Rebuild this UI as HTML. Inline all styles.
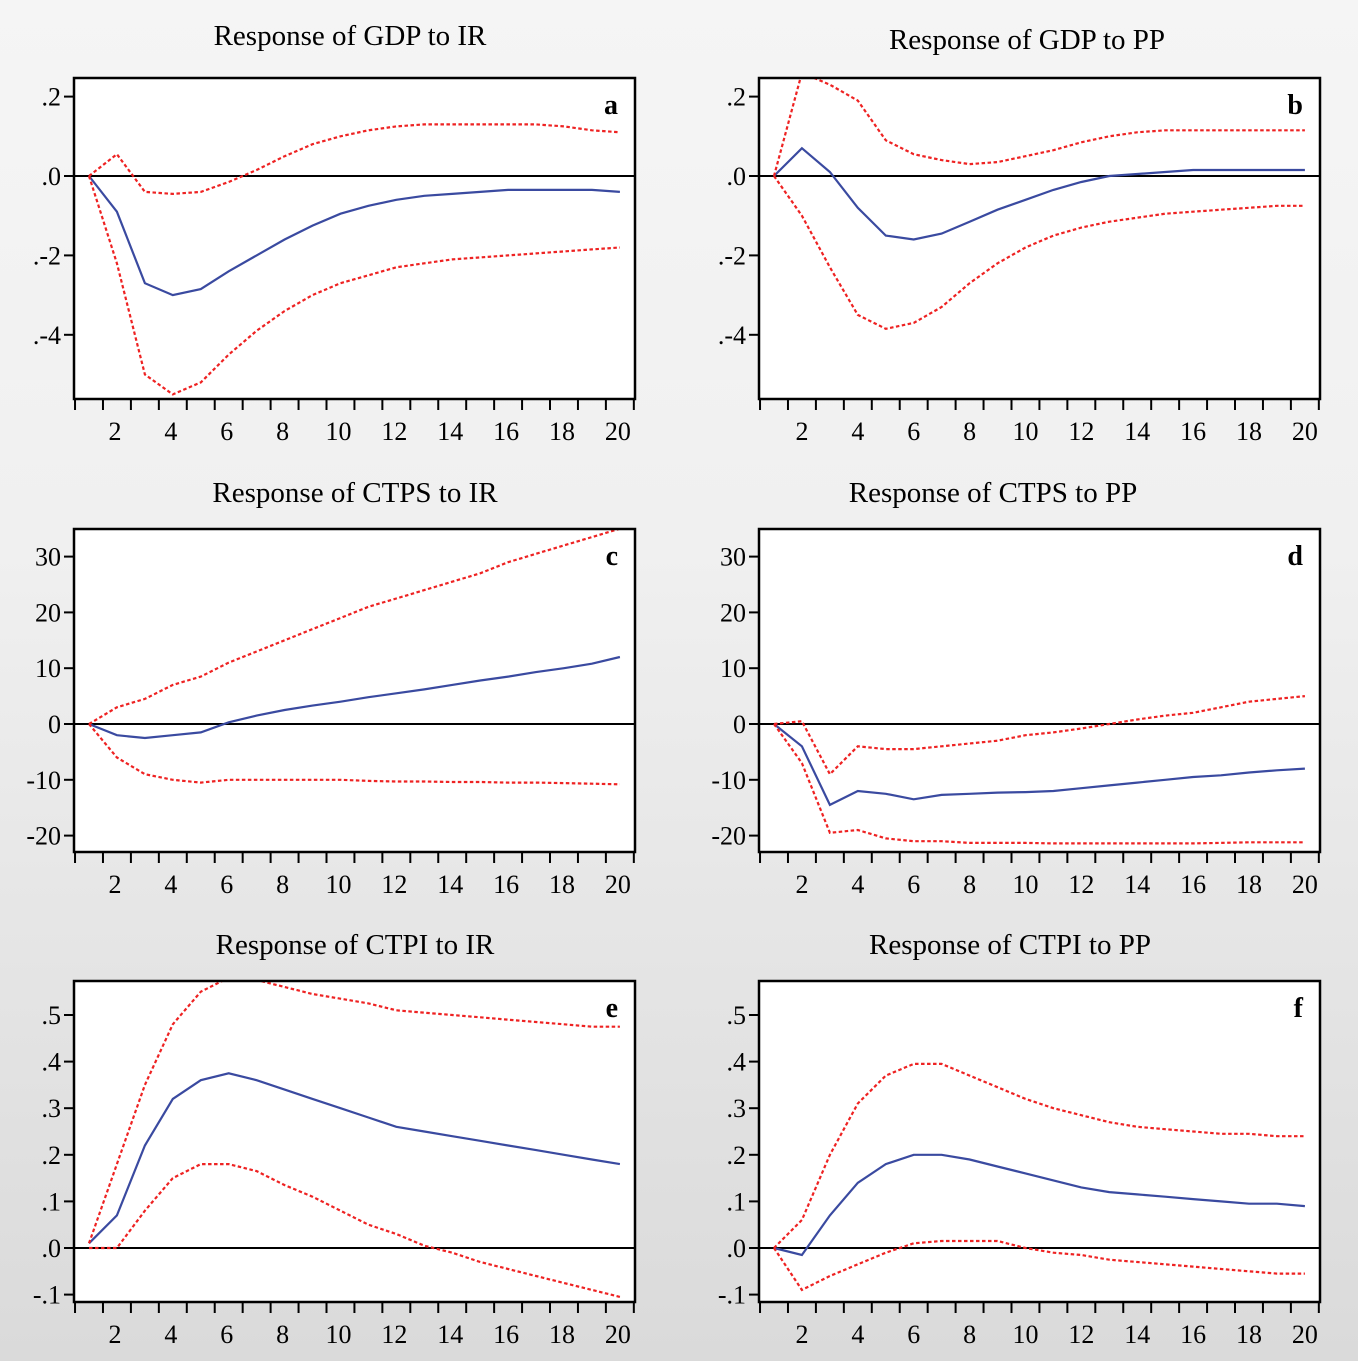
<!DOCTYPE html>
<html><head><meta charset="utf-8"><style>
body{margin:0;width:1358px;height:1361px;background:linear-gradient(#f5f5f5,#f0f0f0 40%,#dadada);overflow:hidden}
svg{display:block}
text{font-family:"Liberation Serif",serif;fill:#000}
</style></head><body>
<svg id="chart" width="1358" height="1361" xmlns="http://www.w3.org/2000/svg"></svg>
<script>
const periods = [1,2,3,4,5,6,7,8,9,10,11,12,13,14,15,16,17,18,19,20];
const xTickLabels = [2,4,6,8,10,12,14,16,18,20];
const titles = ["Response of GDP  to IR","Response of GDP to PP","Response of CTPS to IR","Response of CTPS to PP","Response of CTPI to IR","Response of CTPI to PP"];
const panelLetters = ["a","b","c","d","e","f"];
const yTicksGDP = [0.2,0,-0.2,-0.4];
const yTickLabelsGDP = [".2",".0",".-2",".-4"];
const yTicksCTPS = [30,20,10,0,-10,-20];
const yTickLabelsCTPS = ["30","20","10","0","-10","-20"];
const yTicksCTPI = [0.5,0.4,0.3,0.2,0.1,0,-0.1];
const yTickLabelsCTPI = [".5",".4",".3",".2",".1",".0","-.1"];
// panel a
const aMid = [0,-0.09,-0.27,-0.30,-0.285,-0.24,-0.20,-0.16,-0.125,-0.095,-0.075,-0.06,-0.05,-0.045,-0.04,-0.035,-0.035,-0.035,-0.035,-0.04];
const aUp = [0,0.055,-0.04,-0.045,-0.04,-0.015,0.015,0.05,0.08,0.10,0.115,0.125,0.13,0.13,0.13,0.13,0.13,0.125,0.115,0.11];
const aLo = [0,-0.22,-0.50,-0.55,-0.52,-0.45,-0.39,-0.34,-0.30,-0.27,-0.25,-0.23,-0.22,-0.21,-0.205,-0.20,-0.195,-0.19,-0.185,-0.18];
// panel b
const bMid = [0,0.07,0.01,-0.08,-0.15,-0.16,-0.145,-0.115,-0.085,-0.06,-0.035,-0.015,0,0.005,0.01,0.015,0.015,0.015,0.015,0.015];
const bUp = [0,0.26,0.23,0.19,0.09,0.055,0.04,0.03,0.035,0.05,0.065,0.085,0.1,0.11,0.115,0.115,0.115,0.115,0.115,0.115];
const bLo = [0,-0.10,-0.23,-0.35,-0.385,-0.37,-0.33,-0.27,-0.22,-0.18,-0.15,-0.13,-0.115,-0.105,-0.095,-0.09,-0.085,-0.08,-0.075,-0.075];
// panel c
const cMid = [0,-2,-2.5,-2,-1.5,0.3,1.5,2.5,3.3,4,4.8,5.5,6.2,7,7.8,8.5,9.3,10,10.8,12];
const cUp = [0,3,4.5,7,8.5,11,13,15,17,19,21,22.5,24,25.5,27,29,30.5,32,33.5,35];
const cLo = [0,-6,-9,-10,-10.5,-10,-10,-10,-10,-10,-10.2,-10.3,-10.3,-10.4,-10.4,-10.5,-10.5,-10.6,-10.7,-10.8];
// panel d
const dMid = [0,-4,-14.5,-12,-12.5,-13.5,-12.7,-12.5,-12.3,-12.2,-12,-11.5,-11,-10.5,-10,-9.5,-9.2,-8.7,-8.3,-8];
const dUp = [0,0.5,-9,-4,-4.5,-4.5,-4,-3.5,-3,-2,-1.5,-0.8,0,0.8,1.5,2,3,4,4.5,5];
const dLo = [0,-7,-19.5,-19,-20.5,-21,-21,-21.3,-21.3,-21.3,-21.4,-21.4,-21.4,-21.4,-21.4,-21.4,-21.3,-21.2,-21.2,-21.2];
// panel e
const eMid = [0.01,0.07,0.22,0.32,0.36,0.375,0.36,0.34,0.32,0.30,0.28,0.26,0.25,0.24,0.23,0.22,0.21,0.20,0.19,0.18];
const eUp = [0.01,0.18,0.35,0.48,0.55,0.58,0.575,0.56,0.545,0.535,0.525,0.51,0.505,0.5,0.495,0.49,0.485,0.48,0.475,0.475];
const eLo = [0,0,0.08,0.15,0.18,0.18,0.165,0.135,0.11,0.08,0.05,0.03,0.005,-0.01,-0.03,-0.045,-0.06,-0.075,-0.09,-0.105];
// panel f
const fMid = [0,-0.015,0.07,0.14,0.18,0.2,0.2,0.19,0.175,0.16,0.145,0.13,0.12,0.115,0.11,0.105,0.1,0.095,0.095,0.09];
const fUp = [0,0.06,0.2,0.31,0.37,0.395,0.395,0.37,0.345,0.32,0.3,0.285,0.27,0.26,0.255,0.25,0.245,0.245,0.24,0.24];
const fLo = [0,-0.09,-0.06,-0.035,-0.01,0.01,0.015,0.015,0.015,0,-0.01,-0.015,-0.025,-0.03,-0.035,-0.04,-0.045,-0.05,-0.055,-0.055];

const NS="http://www.w3.org/2000/svg";
const svg=document.getElementById('chart');
function mk(tag,attrs,parent){const e=document.createElementNS(NS,tag);for(const k in attrs)e.setAttribute(k,attrs[k]);(parent||svg).appendChild(e);return e;}

const cols=[{x0:74,x1:635,p1:89},{x0:759,x1:1320,p1:774}];
const rows=[
 {y0:78,y1:399,zeroY:176,unit:0.1,px:39.7,ticks:yTicksGDP,labels:yTickLabelsGDP,titleY:[45,49]},
 {y0:529,y1:852,zeroY:724,unit:10,px:55.8,ticks:yTicksCTPS,labels:yTickLabelsCTPS,titleY:[502,502]},
 {y0:981,y1:1302,zeroY:1248,unit:0.1,px:46.6,ticks:yTicksCTPI,labels:yTickLabelsCTPI,titleY:[954,954]}
];
const titleX=[350,1027,355,993,355,1010];
const series=[[aMid,aUp,aLo],[bMid,bUp,bLo],[cMid,cUp,cLo],[dMid,dUp,dLo],[eMid,eUp,eLo],[fMid,fUp,fLo]];
const step=27.94;

for(let i=0;i<6;i++){
  const c=cols[i%2], r=rows[Math.floor(i/2)];
  const g=mk('g',{});
  
  
  const xs=p=>c.p1+(p-1)*step;
  const ys=v=>r.zeroY-v/r.unit*r.px;
  const t=mk('text',{x:titleX[i],y:r.titleY[i%2],'font-size':29,'text-anchor':'middle'},g);
  t.textContent=titles[i];
  
  
  const bg=mk('rect',{x:c.x0,y:r.y0,width:c.x1-c.x0,height:r.y1-r.y0,fill:'#fff'},g);
  
  
  const clipId='clip'+i;
  const cp=mk('clipPath',{id:clipId},g);
  mk('rect',{x:c.x0,y:r.y0,width:c.x1-c.x0,height:r.y1-r.y0},cp);
  const zl=mk('line',{x1:c.x0,x2:c.x1,y1:ys(0),y2:ys(0),stroke:'#000','stroke-width':2},g);
  
  
  const styles=[{s:'#3a4aa0',d:'',n:'impulse-response'},{s:'#ee2222',d:'3.5,2.5',n:'upper-band'},{s:'#ee2222',d:'3.5,2.5',n:'lower-band'}];
  series[i].forEach((arr,k)=>{
    const pts=arr.map((v,j)=>xs(periods[j]).toFixed(1)+','+ys(v).toFixed(1)).join(' ');
    const pl=mk('polyline',{points:pts,fill:'none',stroke:styles[k].s,'stroke-width':2.2,'stroke-dasharray':styles[k].d,'clip-path':'url(#'+clipId+')'},g);
    
    
  });
  const bx=mk('rect',{x:c.x0,y:r.y0,width:c.x1-c.x0,height:r.y1-r.y0,fill:'none',stroke:'#000','stroke-width':2.5},g);
  
  
  r.ticks.forEach((v,j)=>{
    const y=ys(v);
    mk('line',{x1:c.x0-10,x2:c.x0,y1:y,y2:y,stroke:'#000','stroke-width':2},g);
    const tl=mk('text',{x:c.x0-13,y:y+9,'font-size':26,'text-anchor':'end'},g);
    tl.textContent=r.labels[j];
    
    
  });
  for(let p=0.5;p<=20.6;p+=1){
    const x=xs(p);
    mk('line',{x1:x,x2:x,y1:r.y1,y2:r.y1+11,stroke:'#000','stroke-width':2},g);
  }
  xTickLabels.forEach(p=>{
    const tl=mk('text',{x:xs(p)-(i%2?0:2),y:r.y1+41,'font-size':26,'text-anchor':'middle'},g);
    tl.textContent=p;
    
    
  });
  const lt=mk('text',{x:c.x1-17,y:r.y0+36,'font-size':28,'font-weight':'bold','text-anchor':'end'},g);
  lt.textContent=panelLetters[i];
  
  
}
</script>
</body></html>
